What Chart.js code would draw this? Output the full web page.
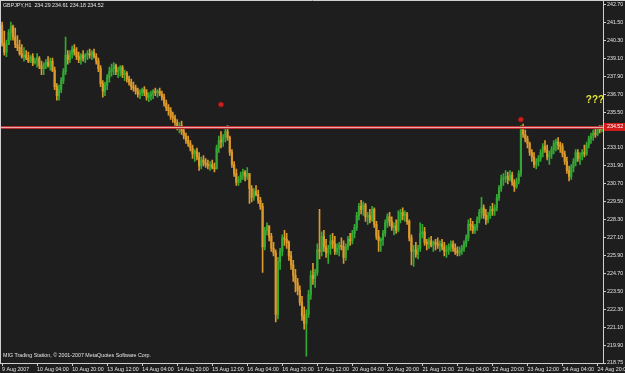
<!DOCTYPE html>
<html>
<head>
<meta charset="utf-8">
<script src="https://cdn.jsdelivr.net/npm/chart.js@4.4.0/dist/chart.umd.min.js"></script>
<style>
  html, body { margin: 0; padding: 0; background: #1e1e1e; }
  canvas { display: block; }
</style>
</head>
<body>
<canvas id="chart" width="625" height="373"></canvas>
<script>
// GBPJPY H1, 9 Aug 2007 12:00 -> 24 Aug 2007

// Etiquetas del eje de tiempo (una cada 16 barras)
const tickStep = 16;
const timeTicks = ['9 Aug 2007', '10 Aug 04:00', '10 Aug 20:00', '13 Aug 12:00', '14 Aug 04:00',
    '14 Aug 20:00', '15 Aug 12:00', '16 Aug 04:00', '16 Aug 20:00', '17 Aug 12:00',
    '20 Aug 04:00', '20 Aug 20:00', '21 Aug 12:00', '22 Aug 04:00', '22 Aug 20:00',
    '23 Aug 12:00', '24 Aug 04:00', '24 Aug 20:00'];

// Etiquetas de precio del eje derecho
const priceTicks = [218.75, 219.90, 221.10, 222.30, 223.50, 224.70, 225.90, 227.10, 228.30, 229.50,
    230.70, 231.90, 233.10, 234.30, 235.50, 236.70, 237.90, 239.10, 240.30, 241.50, 242.70];

const firstOpen = 241.3;

const highs = [
    241.5, 240.9, 240.3, 241.0, 241.5, 241.3, 241.1, 240.6, 240.3, 240.0,
    239.8, 239.6, 239.5, 239.3, 239.4, 239.1, 239.4, 239.2, 238.9, 238.8,
    239.0, 239.2, 239.1, 239.1, 238.5, 237.4, 237.3, 237.8, 238.4, 240.5,
    239.6, 239.6, 239.9, 240.0, 239.8, 239.5, 239.4, 239.6, 239.4, 239.6,
    239.7, 239.6, 239.7, 239.4, 239.1, 238.6, 237.6, 237.5, 238.0, 238.5,
    238.7, 238.8, 238.7, 238.5, 238.6, 238.6, 238.3, 238.2, 237.9, 237.7,
    237.5, 237.3, 237.1, 237.0, 237.1, 237.2, 237.0, 236.8, 236.9, 237.0,
    237.1, 237.0, 237.1, 236.9, 236.7, 236.3, 236.0, 235.8, 235.5, 235.3,
    235.0, 234.8, 234.9, 234.4, 234.1, 233.9, 233.6, 233.3, 233.0, 233.1,
    232.8, 232.5, 232.6, 232.4, 232.3, 232.2, 232.3, 232.1, 233.3, 233.9,
    234.2, 234.0, 234.4, 234.6, 233.9, 233.0, 232.2, 231.7, 231.2, 231.5,
    231.7, 231.6, 231.8, 231.4, 230.6, 230.4, 230.6, 230.3, 229.8, 229.4,
    227.8, 228.1, 227.9, 227.4, 226.8, 226.3, 225.8, 226.4, 227.3, 227.6,
    227.4, 226.9, 226.2, 225.6, 225.0, 224.4, 223.9, 223.2, 222.5, 222.3,
    223.6, 224.9, 225.4, 225.0, 226.7, 229.0, 227.5, 227.6, 227.0, 226.6,
    227.3, 227.4, 227.2, 226.7, 226.8, 227.1, 226.9, 226.7, 227.2, 227.4,
    227.6, 228.0, 228.8, 229.4, 229.6, 229.5, 229.4, 228.8, 229.0, 229.2,
    229.1, 228.2, 227.6, 227.1, 227.6, 228.3, 228.7, 228.8, 228.5, 228.1,
    228.3, 228.9, 229.0, 229.1, 228.9, 228.8, 228.3, 227.3, 226.6, 226.8,
    226.6, 228.1, 228.0, 227.8, 227.0, 227.1, 227.2, 226.9, 227.0, 227.1,
    226.9, 227.0, 226.8, 226.6, 226.7, 226.9, 226.9, 226.7, 226.5, 226.5,
    226.6, 226.9, 227.3, 228.3, 228.4, 228.2, 228.0, 228.5, 229.0, 229.8,
    229.3, 229.0, 228.8, 229.2, 229.4, 229.3, 230.0, 230.6, 231.3, 231.4,
    231.6, 231.5, 231.6, 231.5, 231.0, 231.1, 231.6, 234.6, 234.7, 234.3,
    233.9, 233.5, 233.0, 232.8, 232.4, 232.6, 233.0, 233.4, 233.6, 233.3,
    232.9, 233.2, 233.6, 233.7, 233.8, 233.5, 233.4, 232.9, 232.5, 231.9,
    232.0, 232.4, 233.0, 233.0, 232.8, 233.0, 233.3, 233.5, 233.9, 234.1,
    234.3, 234.4, 234.5, 234.6, 234.61
];

const lows = [
    239.9, 239.3, 239.2, 240.0, 240.3, 240.3, 239.8, 239.6, 239.3, 239.1,
    238.9, 239.0, 238.8, 238.8, 238.6, 238.7, 238.5, 238.4, 238.0, 238.0,
    238.4, 238.5, 238.3, 238.2, 237.0, 236.3, 236.3, 236.8, 237.4, 238.0,
    238.7, 238.8, 239.1, 239.3, 239.0, 238.8, 238.7, 238.9, 238.8, 239.0,
    239.1, 239.0, 239.1, 238.7, 238.2, 237.2, 236.5, 236.6, 237.0, 237.5,
    237.9, 238.0, 238.0, 237.8, 237.9, 237.8, 237.6, 237.5, 237.3, 237.0,
    236.9, 236.7, 236.5, 236.4, 236.6, 236.6, 236.3, 236.2, 236.3, 236.4,
    236.6, 236.5, 236.6, 236.3, 235.9, 235.6, 235.3, 235.0, 234.8, 234.6,
    234.3, 234.1, 234.0, 233.7, 233.4, 233.2, 232.9, 232.4, 232.2, 232.3,
    231.6, 231.7, 231.9, 231.8, 231.7, 231.6, 231.7, 231.5, 231.7, 232.8,
    233.1, 233.2, 233.5, 233.6, 232.6, 231.8, 231.2, 230.6, 230.6, 230.8,
    231.0, 230.9, 231.0, 229.4, 229.5, 229.6, 229.9, 229.4, 229.0, 224.8,
    226.3, 227.3, 226.9, 226.2, 225.9, 221.5, 221.7, 225.0, 225.9, 226.6,
    226.4, 225.6, 225.0, 224.2, 223.5, 223.3, 222.6, 221.6, 221.0, 219.2,
    221.8, 223.0, 224.0, 223.8, 224.6, 225.7, 225.9, 226.2, 225.8, 225.4,
    226.0, 226.4, 226.0, 226.0, 225.9, 226.3, 225.4, 225.6, 226.3, 226.6,
    226.7, 227.1, 227.6, 228.3, 228.7, 228.6, 228.2, 228.0, 228.1, 228.2,
    227.8, 227.0, 226.2, 226.2, 226.6, 227.2, 227.8, 227.9, 227.6, 227.3,
    227.4, 227.5, 228.1, 228.3, 228.2, 228.0, 226.9, 225.3, 225.2, 225.8,
    225.7, 226.2, 227.1, 226.6, 226.3, 226.4, 226.5, 226.2, 226.3, 226.4,
    226.2, 226.3, 225.9, 225.8, 226.0, 226.2, 226.2, 226.0, 225.9, 225.9,
    226.0, 226.2, 226.5, 226.9, 227.6, 227.4, 227.4, 227.6, 228.1, 228.4,
    228.4, 228.0, 228.1, 228.4, 228.6, 228.6, 228.9, 229.6, 230.2, 230.6,
    230.8, 230.7, 230.9, 230.6, 230.2, 230.4, 230.7, 231.2, 233.8, 233.5,
    233.1, 232.6, 232.2, 231.8, 231.7, 231.9, 232.2, 232.5, 232.8, 232.3,
    232.0, 232.4, 232.7, 232.9, 233.0, 232.8, 232.5, 232.0, 231.4, 230.9,
    231.0, 231.5, 231.9, 232.2, 232.0, 232.3, 232.5, 232.6, 233.1, 233.4,
    233.6, 233.8, 233.9, 234.1, 234.18
];

const closes = [
    240.1, 239.5, 240.0, 240.8, 241.2, 240.5, 240.0, 239.8, 239.4, 239.2,
    239.3, 239.1, 238.9, 239.2, 238.8, 238.9, 239.1, 238.6, 238.4, 238.7,
    238.8, 238.6, 238.9, 238.3, 237.2, 236.6, 237.0, 237.6, 238.2, 239.3,
    239.0, 239.4, 239.7, 239.5, 239.2, 239.0, 239.3, 239.1, 239.3, 239.4,
    239.3, 239.5, 239.2, 238.9, 238.4, 237.4, 236.9, 237.3, 237.8, 238.2,
    238.4, 238.6, 238.2, 238.3, 238.5, 238.0, 238.1, 237.7, 237.5, 237.2,
    237.1, 236.9, 236.7, 236.8, 237.0, 236.8, 236.5, 236.6, 236.7, 236.9,
    236.8, 236.9, 236.7, 236.5, 236.1, 235.8, 235.6, 235.2, 235.1, 234.8,
    234.5, 234.6, 234.2, 233.9, 233.6, 233.4, 233.1, 232.7, 232.9, 232.5,
    231.9, 232.3, 232.1, 232.0, 231.9, 232.0, 231.8, 231.7, 233.1, 233.6,
    233.5, 233.8, 234.2, 233.8, 232.8, 232.0, 231.4, 230.8, 231.0, 231.3,
    231.5, 231.2, 231.4, 230.4, 229.8, 230.2, 230.0, 229.6, 229.2, 226.5,
    227.6, 227.9, 227.2, 226.4, 226.1, 222.0, 225.5, 226.2, 227.1, 227.0,
    226.8, 225.9, 225.3, 224.6, 224.1, 223.6, 222.8, 221.9, 221.4, 222.0,
    223.3, 224.6, 224.4, 224.8, 226.3, 226.2, 227.2, 226.5, 226.1, 226.4,
    226.9, 226.7, 226.2, 226.4, 226.6, 226.5, 225.8, 226.5, 227.0, 226.9,
    227.4, 227.8, 228.6, 229.2, 229.0, 229.3, 228.5, 228.6, 228.3, 229.0,
    228.0, 227.2, 226.9, 227.0, 227.4, 228.1, 228.5, 228.2, 227.8, 227.9,
    227.6, 228.3, 228.8, 228.6, 228.7, 228.2, 227.1, 226.2, 226.3, 226.0,
    226.4, 227.4, 227.5, 226.8, 226.7, 226.9, 226.6, 226.8, 226.7, 226.6,
    226.7, 226.5, 226.2, 226.3, 226.5, 226.7, 226.4, 226.2, 226.1, 226.3,
    226.4, 226.7, 227.1, 228.0, 227.9, 227.6, 227.8, 228.3, 228.8, 229.1,
    228.6, 228.3, 228.6, 229.0, 228.9, 229.1, 229.8, 230.4, 231.0, 231.1,
    231.2, 231.0, 231.3, 230.8, 230.5, 230.9, 231.4, 234.3, 234.0, 233.7,
    233.4, 232.8, 232.5, 232.0, 232.2, 232.4, 232.8, 233.2, 233.0, 232.5,
    232.7, 233.0, 233.4, 233.5, 233.3, 233.2, 232.7, 232.2, 231.6, 231.2,
    231.8, 232.2, 232.8, 232.4, 232.6, 232.8, 232.7, 233.3, 233.7, 233.9,
    234.1, 234.0, 234.3, 234.29, 234.52
];

// Flechas rojas y línea horizontal
const markerBars = [100, 237];
const markerPrices = [236.0, 235.0];
const levelPrice = 234.52;

const upColor = '#34a834';
const downColor = '#dc9a2c';
const textColor = '#e4e4e4';
const smallFont = '"Liberation Sans", sans-serif';
const smallSize = 5.3;

// apertura = cierre de la barra anterior
const opens = closes.map((c, i) => i === 0 ? firstOpen : closes[i - 1]);
const barColors = closes.map((c, i) => c >= opens[i] ? upColor : downColor);

const mt4Plugin = {
    id: 'mt4',
    beforeDraw(chart) {
        const ctx = chart.ctx;
        ctx.save();
        ctx.fillStyle = '#1e1e1e';
        ctx.fillRect(0, 0, chart.width, chart.height);
        ctx.restore();
    },
    afterDatasetsDraw(chart) {
        const ctx = chart.ctx;
        const area = chart.chartArea;
        const y = Math.round(chart.scales.y.getPixelForValue(levelPrice));
        ctx.save();
        ctx.fillStyle = '#b83030';
        ctx.fillRect(area.left, y - 1, area.right - area.left, 3);
        ctx.fillStyle = '#e8a8a8';
        ctx.fillRect(area.left, y, area.right - area.left, 1);
        ctx.restore();
    },
    afterDraw(chart) {
        const ctx = chart.ctx;
        const area = chart.chartArea;
        ctx.save();

        // marco
        ctx.strokeStyle = '#d0d0d0';
        ctx.lineWidth = 1;
        ctx.beginPath();
        ctx.moveTo(0, 0.5); ctx.lineTo(chart.width, 0.5);
        ctx.moveTo(0.5, 0); ctx.lineTo(0.5, area.bottom);
        ctx.moveTo(area.right + 0.5, 0); ctx.lineTo(area.right + 0.5, area.bottom + 0.5);
        ctx.moveTo(0, area.bottom + 0.5); ctx.lineTo(area.right + 0.5, area.bottom + 0.5);
        ctx.stroke();

        // textos
        ctx.fillStyle = textColor;
        ctx.font = smallSize + 'px ' + smallFont;
        ctx.textBaseline = 'top';
        ctx.textAlign = 'left';
        ctx.fillText('GBPJPY,H1  234.29 234.61 234.18 234.52', 3, 3);
        ctx.fillText('MIG Trading Station, \u00a9 2001-2007 MetaQuotes Software Corp.', 3, 353);

        ctx.fillStyle = '#e2e23a';
        ctx.font = 'bold 10px "Liberation Sans", sans-serif';
        ctx.textAlign = 'center';
        ctx.textBaseline = 'middle';
        ctx.fillText('???', 595, 100);

        // etiqueta de precio actual
        const y = Math.round(chart.scales.y.getPixelForValue(levelPrice));
        ctx.fillStyle = '#d21c1c';
        ctx.fillRect(area.right + 1, y - 4, chart.width - area.right - 1, 8);
        ctx.fillStyle = '#ffffff';
        ctx.font = smallSize + 'px ' + smallFont;
        ctx.textAlign = 'left';
        ctx.fillText(levelPrice.toFixed(2), area.right + 4, y);
        ctx.restore();
    }
};

new Chart(document.getElementById('chart').getContext('2d'), {
    type: 'bar',
    data: {
        labels: closes.map((c, i) => i),
        datasets: [
            {
                data: lows.map((l, i) => [l, highs[i]]),
                backgroundColor: barColors,
                barThickness: 1,
                grouped: false
            },
            {
                data: opens.map((o, i) => [o, closes[i]]),
                backgroundColor: barColors,
                barThickness: 1.5,
                minBarLength: 1,
                grouped: false
            },
            {
                type: 'line',
                data: markerBars.map((b, i) => ({ x: b, y: markerPrices[i] })),
                showLine: false,
                pointRadius: 2.5,
                pointBackgroundColor: '#cc2222',
                pointBorderColor: '#901414',
                pointBorderWidth: 1
            }
        ]
    },
    options: {
        responsive: false,
        animation: false,
        devicePixelRatio: 1,
        layout: { autoPadding: false, padding: { top: 4, left: 1, right: 0, bottom: 0 } },
        plugins: {
            legend: { display: false },
            tooltip: { enabled: false },
            title: { display: false }
        },
        scales: {
            x: {
                type: 'category',
                offset: true,
                border: { display: false },
                grid: {
                    offset: false,
                    drawOnChartArea: false,
                    drawTicks: true,
                    tickLength: 3,
                    color: c => c.index % tickStep === 0 ? '#cccccc' : 'rgba(0,0,0,0)'
                },
                ticks: {
                    autoSkip: false,
                    maxRotation: 0,
                    minRotation: 0,
                    align: 'start',
                    padding: 0,
                    color: textColor,
                    font: { family: smallFont, size: smallSize },
                    callback: (v, i) => i % tickStep === 0 ? timeTicks[i / tickStep] : ''
                },
                afterFit: s => { s.height = 10; s.paddingLeft = 0; s.paddingRight = 0; }
            },
            y: {
                position: 'right',
                min: 218.75,
                max: 242.70,
                border: { display: false },
                grid: { drawOnChartArea: false, tickLength: 3, color: '#cccccc' },
                ticks: {
                    autoSkip: false,
                    padding: 1,
                    color: textColor,
                    font: { family: smallFont, size: smallSize },
                    callback: v => Number(v).toFixed(2)
                },
                afterBuildTicks: s => { s.ticks = priceTicks.map(v => ({ value: v })); },
                afterFit: s => { s.width = 22; }
            }
        }
    },
    plugins: [mt4Plugin]
});
</script>
</body>
</html>
